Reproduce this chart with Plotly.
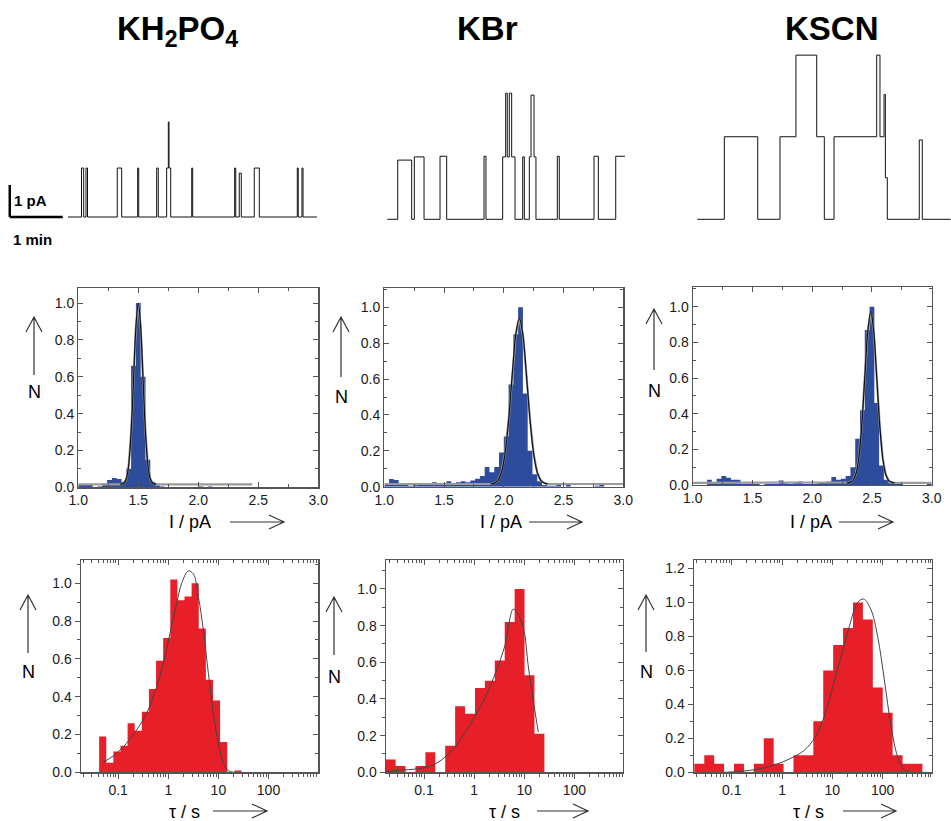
import plotly.graph_objects as go

W, H = 951, 821

# ======================= DATA =======================
# Single-channel current records: times where the current changes (s) and the current level (pA)
kh2po4_trace_t = [67.9, 83.2, 85.7, 88.3, 90.0, 123.7, 128.7, 146.8, 148.0, 168.3, 170.1,
                  179.6, 181.5, 182.3, 184.2, 208.0, 209.1, 256.6, 257.8, 261.8, 264.1,
                  278.8, 284.5, 327.5, 328.6, 332.8, 334.0, 349.8]
kh2po4_trace_i = [0, 1.53, 0, 1.53, 0, 1.53, 0, 1.53, 0, 1.53, 0, 1.53, 2.97, 1.53, 0,
                  1.53, 0, 1.53, 0, 1.37, 0, 1.53, 0, 1.53, 0, 1.53, 0]

kbr_trace_t = [2.6, 14.4, 30.2, 33.2, 44.2, 62.3, 69.8, 112.1, 114.3, 133.2, 136.6, 138.4,
               140.7, 143.4, 147.2, 155.9, 157.7, 163.4, 165.3, 168.7, 170.9, 195.1, 197.3,
               236.6, 241.5, 261.2, 271.7]
kbr_trace_i = [0, 1.85, 0, 1.95, 0, 1.97, 0, 1.97, 0, 1.95, 3.94, 1.95, 3.94, 1.95, 0,
               1.95, 0, 1.95, 3.88, 1.95, 0, 1.97, 0, 1.97, 0, 1.97]

kscn_trace_t = [2.6, 33.2, 71.0, 96.2, 114.3, 137.8, 146.4, 157.4, 205.7, 209.4, 214.0,
                215.5, 217.7, 253.9, 257.3, 289.4]
kscn_trace_i = [0, 2.58, 0, 2.58, 5.13, 2.58, 0, 2.58, 5.13, 2.58, 3.9, 1.3, 0, 2.48, 0]

# Current-amplitude histograms (bins of 0.04 pA starting at 1.0 pA), normalised counts
amp_bin_start = 1.0
amp_bin_width = 0.04
kh2po4_amp_counts = [0.015, 0.015, 0.015, 0.0, 0.005, 0.02, 0.04, 0.05, 0.045, 0.03,
                     0.10, 0.66, 1.0, 0.60, 0.15, 0.03, 0.01, 0.005, 0.0, 0.0,
                     0.0, 0.0, 0.0, 0.0, 0.0, 0.005, 0.0, 0.005]
kbr_amp_counts = [0.01, 0.043, 0.037, 0.02, 0.012, 0.005, 0.008, 0.015, 0.015, 0.015,
                  0.025, 0.015, 0.012, 0.03, 0.02, 0.025, 0.03, 0.025, 0.035, 0.045,
                  0.06, 0.11, 0.08, 0.11, 0.19, 0.28, 0.57, 0.85, 1.0, 0.52,
                  0.2, 0.07, 0.03, 0.01, 0.005, 0.005, 0.01, 0.0, 0.01, 0.0,
                  0.0, 0.0, 0.0, 0.0, 0.005, 0.01, 0.0, 0.0, 0.0, 0.0]
kscn_amp_counts = [0.0, 0.0, 0.0, 0.03, 0.015, 0.035, 0.05, 0.04, 0.03, 0.03,
                   0.005, 0.005, 0.005, 0.005, 0.0, 0.005, 0.005, 0.005, 0.025, 0.01,
                   0.005, 0.01, 0.02, 0.005, 0.005, 0.005, 0.01, 0.012, 0.02, 0.045,
                   0.03, 0.035, 0.05, 0.10, 0.26, 0.42, 0.87, 1.0, 0.46, 0.11,
                   0.03, 0.01, 0.005, 0.005, 0.0, 0.0, 0.0, 0.0, 0.0, 0.008]

# Gaussian fits of the amplitude histograms
kh2po4_amp_fit_x = [1.0, 1.35, 1.38, 1.40, 1.42, 1.44, 1.46, 1.48, 1.50, 1.52, 1.54, 1.56,
                    1.58, 1.60, 1.62, 1.65, 2.45]
kh2po4_amp_fit_y = [0.016, 0.016, 0.022, 0.046, 0.12, 0.30, 0.58, 0.87, 1.0, 0.87, 0.58, 0.30,
                    0.12, 0.046, 0.022, 0.016, 0.016]
kbr_amp_fit_x = [1.0, 1.89, 1.92, 1.95, 1.98, 2.01, 2.04, 2.07, 2.10, 2.13, 2.16, 2.19,
                 2.22, 2.25, 2.28, 2.31, 2.34, 2.37, 3.0]
kbr_amp_fit_y = [0.015, 0.015, 0.020, 0.035, 0.079, 0.183, 0.369, 0.619, 0.847, 0.94, 0.847,
                 0.619, 0.369, 0.183, 0.079, 0.035, 0.020, 0.015, 0.015]
kscn_amp_fit_x = [1.0, 2.29, 2.315, 2.34, 2.365, 2.39, 2.415, 2.44, 2.465, 2.49, 2.515, 2.54,
                  2.565, 2.59, 2.615, 2.64, 2.665, 2.69, 3.0]
kscn_amp_fit_y = [0.012, 0.012, 0.015, 0.025, 0.060, 0.152, 0.337, 0.604, 0.862, 0.97, 0.862,
                  0.604, 0.337, 0.152, 0.060, 0.025, 0.015, 0.012, 0.012]

# Open-time histograms: log10 of first bin edge, log10 bin width, normalised counts
kh2po4_tau_log_start, kh2po4_tau_log_width = -1.38, 0.142
kh2po4_tau_counts = [0.19, 0.05, 0.11, 0.14, 0.26, 0.22, 0.32, 0.44, 0.59, 0.71,
                     1.02, 0.91, 0.93, 1.0, 0.76, 0.49, 0.38, 0.16, 0.0, 0.01]
kbr_tau_log_start, kbr_tau_log_width = -1.765, 0.198
kbr_tau_counts = [0.07, 0.035, 0.0, 0.035, 0.11, 0.0, 0.145, 0.36, 0.32, 0.46,
                  0.5, 0.61, 0.82, 1.0, 0.53, 0.21]
kscn_tau_log_start, kscn_tau_log_width = -1.742, 0.197
kscn_tau_counts = [0.05, 0.1, 0.05, 0.0, 0.05, 0.0, 0.05, 0.2, 0.05, 0.0,
                   0.1, 0.1, 0.3, 0.6, 0.75, 0.85, 1.0, 0.9, 0.5, 0.35,
                   0.1, 0.05, 0.05]

# Fits of the open-time histograms (tau in s, N)
kh2po4_tau_fit_t = [0.050, 0.079, 0.147, 0.233, 0.369, 0.585, 0.794, 1.08, 1.47, 1.85,
                    2.51, 3.16, 3.98, 5.01, 6.31, 7.94, 10.0, 12.6, 15.8, 20.0]
kh2po4_tau_fit_n = [0.053, 0.086, 0.153, 0.224, 0.312, 0.453, 0.577, 0.735, 0.894, 1.0,
                    1.065, 1.05, 0.93, 0.753, 0.524, 0.312, 0.153, 0.048, 0.009, 0.0]
kbr_tau_fit_t = [0.0172, 0.0386, 0.1, 0.179, 0.267, 0.422, 0.668, 1.06, 1.67, 2.65,
                 4.2, 5.01, 6.03, 7.24, 9.62, 12.1, 15.2, 19.1]
kbr_tau_fit_n = [0.005, 0.012, 0.025, 0.05, 0.085, 0.14, 0.22, 0.31, 0.41, 0.54,
                 0.70, 0.82, 0.89, 0.87, 0.79, 0.575, 0.39, 0.22]
kscn_tau_fit_t = [0.0715, 0.153, 0.329, 0.705, 1.51, 2.78, 4.39, 6.93, 10.2, 14.9,
                  21.8, 31.8, 42.0, 58.6, 79.4, 108, 147, 199, 269, 363]
kscn_tau_fit_n = [0.0, 0.006, 0.018, 0.043, 0.083, 0.13, 0.2, 0.33, 0.505, 0.68,
                  0.86, 1.0, 1.02, 0.957, 0.8, 0.544, 0.27, 0.09, 0.014, 0.0]

salts = ["KH<sub>2</sub>PO<sub>4</sub>", "KBr", "KSCN"]

# ======================= STYLE / LAYOUT =======================
BLUE = "#2D4C9C"
RED = "#E61F29"
AXC = "#555555"
TXT = "#1a1a1a"
SANS = "Liberation Sans, Arial, Helvetica, sans-serif"
PX_PER_S = 53.0 / 60.0   # 1 min scale bar = 53 px
PX_PER_PA = 32.0         # 1 pA scale bar = 32 px


def xd(a, b):
    return [a / W, b / W]


def yd(top, bottom):
    return [1 - bottom / H, 1 - top / H]


def px(x):
    return x / W


def py(y):
    return 1 - y / H


def steps(edges, heights):
    xs, ys = [edges[0]], [0]
    for k, h in enumerate(heights):
        xs += [edges[k], edges[k + 1]]
        ys += [h, h]
    xs.append(edges[-1])
    ys.append(0)
    return xs, ys


fig = go.Figure()
layout = dict(template="none", width=W, height=H,
              margin=dict(l=0, r=0, t=0, b=0, pad=0, autoexpand=False),
              paper_bgcolor="white", plot_bgcolor="white", showlegend=False,
              font=dict(family=SANS, color=TXT))

# ---------- top row: current traces ----------
trace_sets = [(kh2po4_trace_t, kh2po4_trace_i), (kbr_trace_t, kbr_trace_i), (kscn_trace_t, kscn_trace_i)]
trace_xdom = [(8, 318), (385, 627), (695, 951)]
trace_base = [217.0, 219.3, 219.3]
TR_TOP, TR_BOT = 45, 228
for j, ((tt, ii), (a, b), base) in enumerate(zip(trace_sets, trace_xdom, trace_base)):
    n = j + 1
    fig.add_trace(go.Scatter(x=tt, y=list(ii) + [ii[-1]], mode="lines", line_shape="hv",
                             line=dict(color="#111", width=1), xaxis=f"x{n}", yaxis=f"y{n}",
                             hoverinfo="skip"))
    layout[f"xaxis{n}"] = dict(domain=xd(a, b), range=[0, (b - a) / PX_PER_S], visible=False,
                               anchor=f"y{n}", automargin=False)
    layout[f"yaxis{n}"] = dict(domain=yd(TR_TOP, TR_BOT),
                               range=[-(TR_BOT - base) / PX_PER_PA, (base - TR_TOP) / PX_PER_PA],
                               visible=False, anchor=f"x{n}", automargin=False)

# ---------- middle row: amplitude histograms ----------
amp_sets = [(kh2po4_amp_counts, kh2po4_amp_fit_x, kh2po4_amp_fit_y),
            (kbr_amp_counts, kbr_amp_fit_x, kbr_amp_fit_y),
            (kscn_amp_counts, kscn_amp_fit_x, kscn_amp_fit_y)]
amp_xdom = [(78.3, 318.3), (384.3, 623.3), (692.7, 931.7)]
amp_ydom = [(288.3, 487.3), (288.3, 486.7), (287.3, 485.0)]
amp_ymax = [1.08, 1.106, 1.109]
for j, ((counts, fx, fy), (a, b), (t, bt), ym) in enumerate(zip(amp_sets, amp_xdom, amp_ydom, amp_ymax)):
    n = j + 4
    edges = [amp_bin_start + k * amp_bin_width for k in range(len(counts) + 1)]
    hx, hy = steps(edges, counts)
    fig.add_trace(go.Scatter(x=hx, y=hy, mode="lines", fill="toself", fillcolor=BLUE,
                             line=dict(width=0, color=BLUE), xaxis=f"x{n}", yaxis=f"y{n}",
                             hoverinfo="skip"))
    fig.add_trace(go.Scatter(x=fx, y=fy, mode="lines", line=dict(color="#9a9a9a", width=2.2),
                             xaxis=f"x{n}", yaxis=f"y{n}", hoverinfo="skip"))
    fig.add_trace(go.Scatter(x=fx[1:-1], y=fy[1:-1], mode="lines", line_shape="spline",
                             line=dict(color="#111", width=1.2),
                             xaxis=f"x{n}", yaxis=f"y{n}", hoverinfo="skip"))
    layout[f"xaxis{n}"] = dict(domain=xd(a, b), range=[1, 3], anchor=f"y{n}", automargin=False,
                               tickmode="linear", tick0=1, dtick=0.5, tickformat=".1f",
                               ticks="inside", ticklen=5, tickcolor=AXC, tickwidth=1,
                               minor=dict(ticks="inside", ticklen=3, dtick=0.25, tick0=1, tickcolor=AXC),
                               showline=True, linecolor=AXC, linewidth=1.2, mirror="ticks",
                               showgrid=False, zeroline=False,
                               tickfont=dict(family=SANS, size=14, color=TXT))
    layout[f"yaxis{n}"] = dict(domain=yd(t, bt), range=[0, ym], anchor=f"x{n}", automargin=False,
                               tickmode="linear", tick0=0, dtick=0.2, tickformat=".1f",
                               ticks="inside", ticklen=5, tickcolor=AXC, tickwidth=1,
                               minor=dict(ticks="inside", ticklen=3, dtick=0.1, tick0=0, tickcolor=AXC),
                               showline=True, linecolor=AXC, linewidth=1.2, mirror="ticks",
                               showgrid=False, zeroline=False,
                               tickfont=dict(family=SANS, size=14, color=TXT))

# ---------- bottom row: open-time histograms ----------
tau_sets = [(kh2po4_tau_log_start, kh2po4_tau_log_width, kh2po4_tau_counts, kh2po4_tau_fit_t, kh2po4_tau_fit_n),
            (kbr_tau_log_start, kbr_tau_log_width, kbr_tau_counts, kbr_tau_fit_t, kbr_tau_fit_n),
            (kscn_tau_log_start, kscn_tau_log_width, kscn_tau_counts, kscn_tau_fit_t, kscn_tau_fit_n)]
tau_xdom = [(80.7, 318.3), (385.7, 622.7), (693.7, 932.0)]
tau_xrange = [[-1.748, 2.994], [-1.765, 2.966], [-1.755, 2.98]]
tau_ymax = [1.123, 1.158, 1.25]
TAU_TOP, TAU_BOT = 560, 772.3
major_t = [0.1, 1, 10, 100]
major_lbl = ["0.1", "1", "10", "100"]
minor_t = [m * 10.0 ** e for e in range(-2, 3) for m in range(2, 10)]
for j, ((ls, lw, counts, ft, fn), (a, b), xr, ym) in enumerate(zip(tau_sets, tau_xdom, tau_xrange, tau_ymax)):
    n = j + 7
    edges = [10 ** (ls + k * lw) for k in range(len(counts) + 1)]
    hx, hy = steps(edges, counts)
    fig.add_trace(go.Scatter(x=hx, y=hy, mode="lines", fill="toself", fillcolor=RED,
                             line=dict(width=0, color=RED), xaxis=f"x{n}", yaxis=f"y{n}",
                             hoverinfo="skip"))
    fig.add_trace(go.Scatter(x=ft, y=fn, mode="lines", line_shape="spline",
                             line=dict(color="#444", width=1),
                             xaxis=f"x{n}", yaxis=f"y{n}", hoverinfo="skip"))
    ytickvals = [round(0.2 * k, 1) for k in range(int(ym / 0.2) + 1)]
    common_x = dict(type="log", range=xr, tickmode="array", tickvals=major_t, ticktext=major_lbl,
                    ticklen=5, tickcolor=AXC, tickwidth=1, showgrid=False, zeroline=False,
                    automargin=False, tickfont=dict(family=SANS, size=14, color=TXT))
    layout[f"xaxis{n}"] = dict(domain=xd(a, b), anchor=f"y{n}", ticks="outside",
                               minor=dict(ticks="outside", ticklen=3, tickmode="array",
                                          tickvals=minor_t, tickcolor=AXC),
                               showline=True, linecolor=AXC, linewidth=1.2, mirror=True,
                               **common_x)
    layout[f"xaxis{n + 3}"] = dict(overlaying=f"x{n}", anchor=f"y{n}", side="top", ticks="inside",
                                   showticklabels=False, showline=False,
                                   minor=dict(ticks="inside", ticklen=3, tickmode="array",
                                              tickvals=minor_t, tickcolor=AXC),
                                   **common_x)
    common_y = dict(range=[0, ym], tickmode="array", tickvals=ytickvals,
                    ticktext=[f"{v:.1f}" for v in ytickvals],
                    ticklen=5, tickcolor=AXC, tickwidth=1, showgrid=False, zeroline=False,
                    automargin=False, tickfont=dict(family=SANS, size=14, color=TXT))
    layout[f"yaxis{n}"] = dict(domain=yd(TAU_TOP, TAU_BOT), anchor=f"x{n}", ticks="outside",
                               minor=dict(ticks="outside", ticklen=3, dtick=0.1, tick0=0, tickcolor=AXC),
                               showline=True, linecolor=AXC, linewidth=1.2, mirror=True,
                               **common_y)
    layout[f"yaxis{n + 3}"] = dict(overlaying=f"y{n}", anchor=f"x{n}", side="right", ticks="inside",
                                   showticklabels=False, showline=False,
                                   minor=dict(ticks="inside", ticklen=3, dtick=0.1, tick0=0, tickcolor=AXC),
                                   **common_y)
    # empty traces so the mirrored tick axes are drawn
    fig.add_trace(go.Scatter(x=[], y=[], xaxis=f"x{n + 3}", yaxis=f"y{n}", hoverinfo="skip"))
    fig.add_trace(go.Scatter(x=[], y=[], xaxis=f"x{n}", yaxis=f"y{n + 3}", hoverinfo="skip"))

# ---------- annotations ----------
ann = []


def text(t, x, y, size, bold=False, xanchor="center", yanchor="middle"):
    ann.append(dict(text=t, x=px(x), y=py(y), xref="paper", yref="paper", showarrow=False,
                    xanchor=xanchor, yanchor=yanchor,
                    font=dict(family=SANS, size=size, color="#000",
                              weight="bold" if bold else "normal")))


title_x = [177, 487, 832]
for s, x in zip(salts, title_x):
    text(s, x, 8, 33, bold=True, yanchor="top")

text("1 pA", 30, 200, 15, bold=True)
text("1 min", 32, 239, 15, bold=True)

shapes = []
LC = "#333"


def up_arrow(x, tip, tail):
    p = (f"M {px(x)},{py(tail)} L {px(x)},{py(tip)} "
         f"M {px(x - 8)},{py(tip + 15)} L {px(x)},{py(tip)} L {px(x + 8)},{py(tip + 15)}")
    shapes.append(dict(type="path", path=p, xref="paper", yref="paper",
                       line=dict(color=LC, width=1.2)))


def right_arrow(x0, x1, y):
    p = (f"M {px(x0)},{py(y)} L {px(x1)},{py(y)} "
         f"M {px(x1 - 15)},{py(y - 7)} L {px(x1)},{py(y)} L {px(x1 - 15)},{py(y + 7)}")
    shapes.append(dict(type="path", path=p, xref="paper", yref="paper",
                       line=dict(color=LC, width=1.2)))


# N labels with arrows
for (x, tip, tail, ny) in [(34, 317, 375, 392), (341, 317, 377, 397), (654, 309, 370, 391),
                           (28, 595, 653, 672), (334, 597, 655, 677), (646, 595, 652, 672)]:
    up_arrow(x, tip, tail)
    text("N", x, ny, 18)

# x-axis titles with arrows
for (cx, x0, x1) in [(190, 230, 284), (501, 529, 582), (811, 839, 893)]:
    text("I / pA", cx, 522, 18)
    right_arrow(x0, x1, 522)
for (cx, x0, x1) in [(184, 213, 267), (504, 537, 588), (808, 843, 896)]:
    text("τ / s", cx, 812, 18)
    right_arrow(x0, x1, 811)

# scale bars drawn in the data frame of the first trace (1 min, 1 pA)
shapes.append(dict(type="line", xref="x", yref="y", x0=2, x1=62, y0=0, y1=0,
                   line=dict(color="#000", width=2.5)))
shapes.append(dict(type="line", xref="x", yref="y", x0=2, x1=2, y0=0, y1=1,
                   line=dict(color="#000", width=2.5)))

layout["annotations"] = ann
layout["shapes"] = shapes
fig.update_layout(**layout)
# place the figure at the page's top-left corner (remove the default body margin)
fig.write_html("out.html",
               config={"displayModeBar": False, "staticPlot": True},
               post_script="document.body.style.margin='0px';document.body.style.overflow='hidden';")
